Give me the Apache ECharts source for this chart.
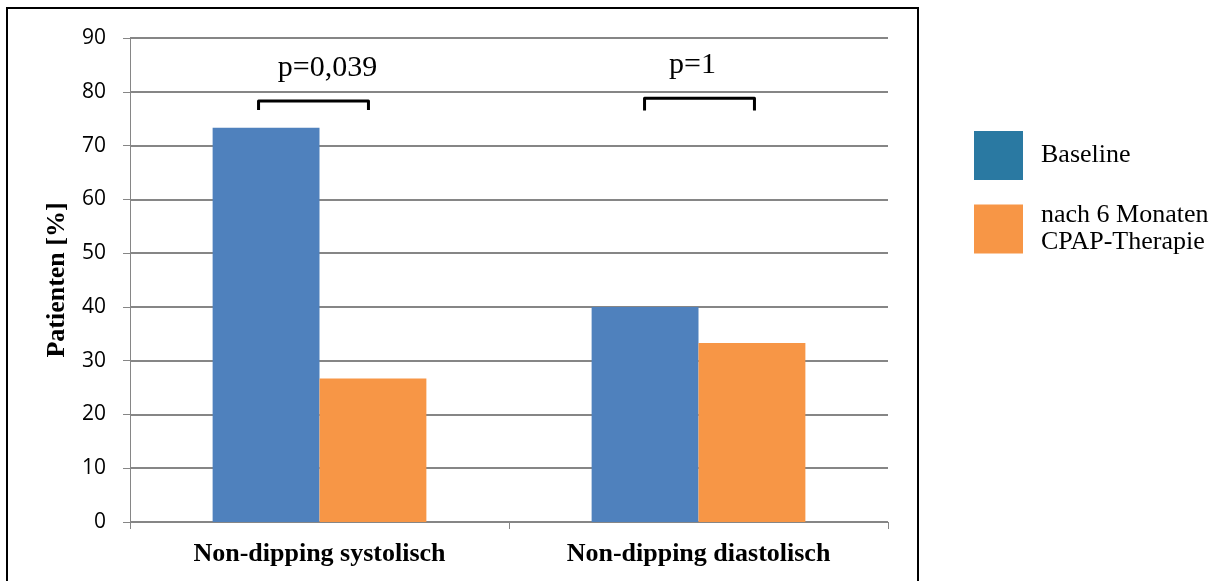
<!DOCTYPE html>
<html>
<head>
<meta charset="utf-8">
<script src="https://cdn.jsdelivr.net/npm/echarts@6/dist/echarts.min.js"></script>
<style>
  html, body { margin: 0; padding: 0; background: #fff; }
  #chart { width: 1223px; height: 581px; }
</style>
</head>
<body>
<div id="chart"></div>
<script>
// Share of non-dipping patients before and after CPAP therapy
const categories = ['Non-dipping systolisch', 'Non-dipping diastolisch'];
const seriesNames = ['Baseline', 'nach 6 Monaten\nCPAP-Therapie'];
const baseline = [73.3, 40.0];
const afterCpap = [26.7, 33.3];
const yTicks = { min: 0, max: 90, interval: 10 };

// Significance brackets: [category index, top value, leg end value, label]
const brackets = [
  [0, 78.3, 76.6, 'p=0,039'],
  [1, 78.8, 76.5, 'p=1']
];

const serif = '"Liberation Serif", "Times New Roman", serif';
const sans = '"Open Sans", "Liberation Sans", sans-serif';
const barColor = '#4F81BD';
const orange = '#F79646';

const chart = echarts.init(document.getElementById('chart'));

chart.setOption({
  animation: false,
  backgroundColor: '#fff',
  grid: { left: 130, right: 335, top: 38, bottom: 59 },
  legend: {
    orient: 'vertical',
    left: 974,
    top: 131,
    padding: 0,
    itemWidth: 49,
    itemHeight: 49,
    itemGap: 22,
    icon: 'rect',
    textStyle: { fontFamily: serif, fontSize: 26, color: '#000', lineHeight: 27, padding: [0, 0, 0, 13] },
    data: [
      { name: seriesNames[0], itemStyle: { color: '#2A79A2' } },
      { name: seriesNames[1], itemStyle: { color: orange } }
    ]
  },
  xAxis: {
    type: 'category',
    data: categories,
    axisLine: { lineStyle: { color: '#868686', width: 1 } },
    axisTick: { show: true, length: 7, lineStyle: { color: '#868686' } },
    axisLabel: { fontFamily: serif, fontWeight: 'bold', fontSize: 26, color: '#000', margin: 19 }
  },
  yAxis: {
    type: 'value',
    min: yTicks.min,
    max: yTicks.max,
    interval: yTicks.interval,
    name: 'Patienten [%]',
    nameLocation: 'middle',
    nameGap: 60,
    nameTextStyle: { fontFamily: serif, fontWeight: 'bold', fontSize: 26, color: '#000' },
    axisLine: { show: true, lineStyle: { color: '#868686' } },
    axisTick: { show: true, length: 7, inside: false, lineStyle: { color: '#868686' } },
    axisLabel: { fontFamily: sans, fontSize: 21, color: '#000', margin: 24 },
    splitLine: { lineStyle: { color: '#868686', width: 2 } }
  },
  series: [
    {
      name: seriesNames[0],
      type: 'bar',
      data: baseline,
      barWidth: '28.2%',
      barGap: '0%',
      itemStyle: { color: barColor }
    },
    {
      name: seriesNames[1],
      type: 'bar',
      data: afterCpap,
      barWidth: '28.2%',
      itemStyle: { color: orange }
    },
    {
      type: 'custom',
      silent: true,
      z: 5,
      data: brackets,
      renderItem: function (params, api) {
        const idx = api.value(0);
        const top = api.coord([idx, api.value(1)]);
        const leg = api.coord([idx, api.value(2)]);
        const half = api.size([1, 0])[0] * 0.145;
        const cx = top[0] - 6 + idx * 7;
        return {
          type: 'group',
          children: [
            {
              type: 'polyline',
              shape: { points: [[cx - half, leg[1]], [cx - half, top[1]], [cx + half, top[1]], [cx + half, leg[1]]] },
              style: { stroke: '#000', lineWidth: 3, fill: null, lineJoin: 'round' }
            },
            {
              type: 'text',
              style: {
                text: brackets[params.dataIndex][3],
                x: cx + 14 - idx * 21,
                y: top[1] - 18,
                align: 'center',
                verticalAlign: 'bottom',
                fontFamily: serif,
                fontSize: 30,
                fill: '#000'
              }
            }
          ]
        };
      }
    }
  ],
  graphic: [
    {
      type: 'rect',
      shape: { x: 7, y: 8, width: 911, height: 590 },
      style: { stroke: '#000', lineWidth: 2, fill: null },
      silent: true
    }
  ]
});
</script>
</body>
</html>
